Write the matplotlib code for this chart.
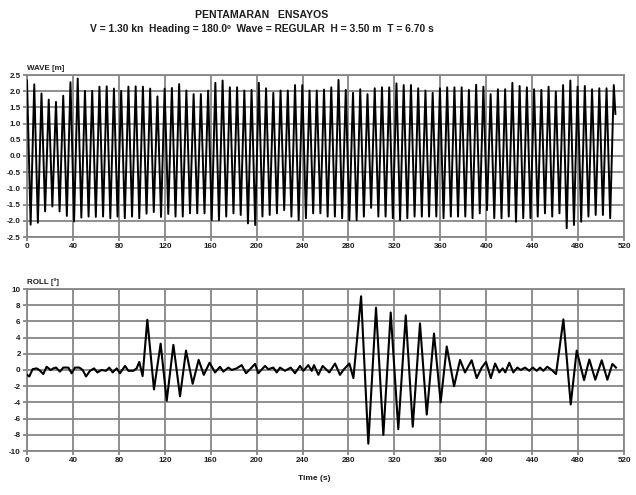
"""
Pentamaran ensayos - wave elevation and roll time histories
(regular head seas, V = 1.30 kn, H = 3.50 m, T = 6.70 s)
"""

import numpy as np
import matplotlib
matplotlib.use("Agg")
import matplotlib.pyplot as plt
from matplotlib import font_manager
from matplotlib.ticker import MultipleLocator, FormatStrFormatter

# ---------- DATA ----------
WAVE_HALF_PERIOD = 3.155   # s, sample step between crest and trough (encounter T ~ 6.31 s)

wave_crests = [
    2.33, 2.21, 1.93, 1.74, 1.67, 1.86, 2.28, 2.39, 2.01, 2.01,
    2.14, 2.15, 2.08, 2.01, 2.14, 2.15, 2.14, 2.08, 1.84, 2.08,
    2.10, 2.22, 2.02, 1.91, 1.91, 2.02, 2.26, 2.33, 2.12, 2.12,
    2.02, 2.04, 2.26, 2.09, 1.95, 2.02, 2.02, 2.19, 2.19, 2.02,
    2.02, 2.05, 2.12, 2.35, 2.04, 1.95, 2.06, 1.91, 2.09, 2.12,
    2.12, 2.24, 2.19, 2.19, 2.09, 2.02, 1.95, 2.09, 2.12, 2.12,
    2.12, 2.04, 2.20, 2.14, 1.91, 2.06, 2.06, 2.26, 2.16, 2.12,
    2.06, 2.04, 2.14, 1.99, 2.19, 2.33, 2.14, 2.16, 2.06, 2.09,
    2.09, 2.19,
]
wave_troughs = [
    -2.12, -2.06, -1.71, -1.56, -1.71, -1.85, -2.02, -1.90, -1.87, -1.88,
    -1.87, -1.92, -1.87, -1.92, -1.87, -1.92, -1.78, -1.73, -1.88, -1.79,
    -1.87, -1.87, -1.77, -1.77, -1.77, -1.98, -1.98, -1.87, -1.77, -1.82,
    -2.08, -2.13, -1.87, -1.82, -1.77, -1.67, -1.87, -1.98, -1.92, -1.77,
    -1.77, -1.87, -1.87, -1.92, -1.98, -1.98, -1.87, -1.60, -1.87, -1.87,
    -1.92, -1.98, -1.92, -1.87, -1.87, -1.87, -1.87, -1.92, -1.87, -1.87,
    -1.87, -1.92, -1.77, -1.67, -1.92, -1.92, -1.87, -2.03, -1.92, -1.92,
    -1.87, -1.77, -1.87, -1.77, -2.23, -2.13, -2.03, -1.87, -1.82, -1.82,
    -1.92,
]
wave_end_t = 512.5
wave_end_val = 1.3

roll_t = [
    0.0, 2.0, 4.9, 8.4, 10.7, 14.2, 17.1, 20.6, 22.9, 25.3,
    28.7, 31.6, 36.0, 38.9, 41.8, 45.6, 48.5, 51.4, 54.9, 58.4,
    61.3, 65.0, 68.8, 71.7, 74.6, 78.1, 81.0, 85.4, 88.3, 92.6,
    95.5, 97.8, 100.7, 104.8, 110.6, 116.4, 121.7, 127.5, 133.3, 138.5,
    144.3, 149.5, 154.0, 159.0, 163.8, 168.1, 171.0, 175.4, 178.3, 182.6,
    187.0, 190.8, 194.3, 198.6, 201.5, 207.3, 210.2, 214.6, 217.5, 220.4,
    224.7, 229.7, 233.4, 237.8, 240.7, 245.0, 248.0, 250.0, 253.8, 257.5,
    260.4, 263.3, 268.3, 272.6, 276.1, 280.8, 284.3, 291.0, 297.3, 304.0,
    310.4, 316.8, 323.4, 329.9, 336.0, 342.3, 348.2, 354.5, 360.3, 365.6,
    372.0, 377.2, 381.5, 387.3, 391.7, 396.1, 399.8, 404.0, 407.7, 411.4,
    414.3, 416.6, 420.1, 423.6, 427.1, 430.0, 433.8, 437.5, 440.5, 444.0,
    446.9, 449.7, 453.2, 457.1, 460.8, 467.2, 473.6, 478.8, 485.2, 489.8,
    495.0, 500.6, 505.5, 509.9, 513.0,
]
roll_deg = [
    -0.6, -0.8, 0.1, 0.2, 0.0, -0.5, 0.4, 0.0, 0.2, 0.3,
    -0.2, 0.3, 0.3, -0.4, 0.3, 0.3, 0.0, -0.8, -0.1, 0.2,
    -0.3, 0.0, -0.1, 0.3, -0.3, 0.2, -0.4, 0.5, -0.1, -0.1,
    0.2, 1.0, -0.75, 6.2, -2.4, 3.25, -3.8, 3.1, -3.25, 2.4,
    -1.7, 1.25, -0.6, 0.9, -0.3, 0.4, -0.2, 0.3, 0.0, 0.2,
    0.6, -0.4, 0.1, 0.75, -0.4, 0.5, 0.1, 0.3, -0.3, 0.3,
    -0.1, 0.3, -0.4, 0.5, -0.1, 0.6, -0.1, 0.6, -0.6, 0.5,
    0.1, -0.3, 0.8, -0.6, 0.1, 0.8, -1.0, 9.1, -9.1, 7.7,
    -8.0, 7.1, -7.3, 6.75, -7.0, 5.75, -5.5, 4.5, -4.0, 2.9,
    -2.0, 1.25, -0.3, 1.2, -1.0, 0.3, 1.0, -1.0, 0.8, -0.3,
    0.2, -0.3, 0.9, -0.3, 0.3, 0.0, 0.3, -0.1, 0.3, -0.1,
    0.3, -0.1, 0.4, 0.0, -0.5, 6.25, -4.25, 2.4, -1.25, 1.3,
    -1.2, 1.2, -1.2, 0.75, 0.3,
]

TITLE_1 = "PENTAMARAN   ENSAYOS"
TITLE_2 = "V = 1.30 kn  Heading = 180.0\u00ba  Wave = REGULAR  H = 3.50 m  T = 6.70 s"

# ---------- STYLE ----------
names = {f.name for f in font_manager.fontManager.ttflist}
FONT = "Liberation Sans Narrow" if "Liberation Sans Narrow" in names else "Liberation Sans"
plt.rcParams["font.family"] = [FONT, "DejaVu Sans"]
plt.rcParams["font.weight"] = "bold"

GRID = "#868686"
TXT = "#1e1e1e"


def style_axes(ax, ylim, ystep, yfmt):
    ax.set_xlim(0, 520)
    ax.set_ylim(*ylim)
    ax.xaxis.set_major_locator(MultipleLocator(40))
    ax.yaxis.set_major_locator(MultipleLocator(ystep))
    ax.yaxis.set_major_formatter(FormatStrFormatter(yfmt))
    ax.grid(True, color=GRID, linewidth=1.3)
    ax.set_axisbelow(True)
    for s in ax.spines.values():
        s.set_color(GRID)
        s.set_linewidth(1.3)
    ax.tick_params(length=3, width=1.3, color=GRID, labelsize=5.8,
                   labelcolor=TXT, pad=1.5)
    for lab in ax.get_xticklabels() + ax.get_yticklabels():
        lab.set_fontweight("bold")


# ---------- BUILD SERIES ----------
wave_vals = []
for i, c in enumerate(wave_crests):
    wave_vals.append(c)
    if i < len(wave_troughs):
        wave_vals.append(wave_troughs[i])
wave_t = list(np.arange(len(wave_vals)) * WAVE_HALF_PERIOD)
wave_t.append(wave_end_t)
wave_vals.append(wave_end_val)

# ---------- FIGURE ----------
fig = plt.figure(figsize=(6.36, 4.95), dpi=100)
fig.patch.set_facecolor("white")

ax1 = fig.add_axes([27 / 636, 1 - 237 / 495, 597 / 636, 162 / 495])
ax1.plot(wave_t, wave_vals, color="black", linewidth=1.4,
         solid_joinstyle="round", zorder=3)
style_axes(ax1, (-2.5, 2.5), 0.5, "%.1f")

ax2 = fig.add_axes([27 / 636, 1 - 451 / 495, 597 / 636, 162 / 495])
ax2.plot(roll_t, roll_deg, color="black", linewidth=1.5,
         solid_joinstyle="round", zorder=3)
style_axes(ax2, (-10, 10), 2, "%d")

fig.text(262 / 636, 1 - 15 / 495, TITLE_1, ha="center", va="center",
         fontsize=7.6, fontweight="bold", color=TXT)
fig.text(262 / 636, 1 - 29 / 495, TITLE_2, ha="center", va="center",
         fontsize=7.4, fontweight="bold", color=TXT)
fig.text(27 / 636, 1 - 68 / 495, "WAVE [m]", ha="left", va="center",
         fontsize=5.8, fontweight="bold", color=TXT)
fig.text(27 / 636, 1 - 282 / 495, "ROLL [\u00ba]", ha="left", va="center",
         fontsize=5.8, fontweight="bold", color=TXT)
fig.text(314 / 636, 1 - 478 / 495, "Time (s)", ha="center", va="center",
         fontsize=6, fontweight="bold", color=TXT)

fig.savefig("out.png", dpi=100, facecolor=fig.get_facecolor())
